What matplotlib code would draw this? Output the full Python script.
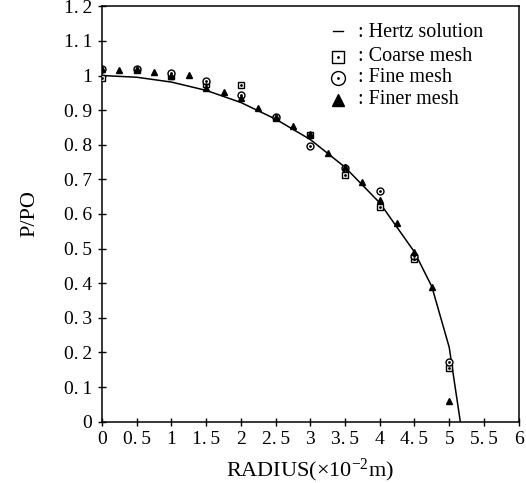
import matplotlib
matplotlib.use("Agg")
import matplotlib.pyplot as plt
import numpy as np

plt.rcParams['font.family'] = ['Liberation Serif', 'DejaVu Serif']
plt.rcParams['mathtext.fontset'] = 'custom'
plt.rcParams['mathtext.rm'] = 'Liberation Serif'
plt.rcParams['mathtext.it'] = 'Liberation Serif:italic'

# Hertz solution
hertz_r = [0.0, 0.5, 1.0, 1.5, 2.0, 2.5, 3.0, 3.5, 4.0, 4.5, 4.75, 5.0, 5.16]
hertz_p = [1.0, 0.995, 0.981, 0.957, 0.922, 0.874, 0.815, 0.735, 0.632, 0.49, 0.39, 0.215, 0.0]

# Coarse mesh
coarse_r = [0.0, 0.5, 1.0, 1.5, 2.0, 2.5, 3.0, 3.5, 4.0, 4.5, 5.0]
coarse_p = [0.993, 1.015, 0.998, 0.975, 0.973, 0.878, 0.828, 0.712, 0.62, 0.47, 0.155]

# Fine mesh
fine_r = [0.0, 0.5, 1.0, 1.5, 2.0, 2.5, 3.0, 3.5, 4.0, 4.5, 5.0]
fine_p = [1.02, 1.018, 1.008, 0.985, 0.944, 0.881, 0.795, 0.733, 0.665, 0.478, 0.173]

# Finer mesh
finer_r = [0.0, 0.25, 0.5, 0.75, 1.0, 1.25, 1.5, 1.75, 2.0, 2.25, 2.5, 2.75,
           3.0, 3.25, 3.5, 3.75, 4.0, 4.25, 4.5, 4.75, 5.0]
finer_p = [1.02, 1.016, 1.018, 1.01, 1.0, 1.002, 0.963, 0.952, 0.935, 0.907, 0.881, 0.855,
           0.832, 0.777, 0.737, 0.692, 0.64, 0.573, 0.491, 0.388, 0.061]

xticks = [0, 0.5, 1, 1.5, 2, 2.5, 3, 3.5, 4, 4.5, 5, 5.5, 6]
yticks = [0, 0.1, 0.2, 0.3, 0.4, 0.5, 0.6, 0.7, 0.8, 0.9, 1.0, 1.1, 1.2]

def fmt(v):
    s = ('%g' % v)
    return s.replace('.', '.\u2009')

fig = plt.figure(figsize=(5.26, 4.83), dpi=100)
ax = fig.add_axes([0.194, 0.127, 0.792, 0.86])

ax.plot(hertz_r, hertz_p, color='black', lw=1.1, zorder=2)
ax.plot(coarse_r, coarse_p, linestyle='none', marker='s', ms=4.5, mfc='white',
        mec='black', mew=1.0, zorder=3)
ax.plot(coarse_r, coarse_p, linestyle='none', marker='.', ms=2, color='black', zorder=4)
ax.plot(fine_r, fine_p, linestyle='none', marker='o', ms=5, mfc='white',
        mec='black', mew=1.0, zorder=3)
ax.plot(fine_r, fine_p, linestyle='none', marker='.', ms=2, color='black', zorder=4)
ax.plot(finer_r, finer_p, linestyle='none', marker='^', ms=4.5, color='black', zorder=5)

ax.set_xlim(0, 6)
ax.set_ylim(0, 1.2)
ax.set_xticks(xticks)
ax.set_yticks(yticks)
ax.set_xticklabels([fmt(v) for v in xticks], fontsize=14)
ax.set_yticklabels([fmt(v) for v in yticks], fontsize=14)
ax.tick_params(direction='inout', length=6, width=1, pad=4)
for sp in ax.spines.values():
    sp.set_linewidth(1.1)

ax.set_xlabel('RADIUS(×10$^{-2}$m)', fontsize=16, labelpad=6)
ax.set_ylabel('P/PO', fontsize=16, labelpad=18)

# Legend (manual)
lx_sym = 0.566
lx_txt = 0.615
rows = [0.936, 0.878, 0.828, 0.775]
labels = [': Hertz solution', ': Coarse mesh', ': Fine mesh', ': Finer mesh']
ax.plot([lx_sym - 0.012, lx_sym + 0.012], [rows[0] + 0.005, rows[0] + 0.005],
        transform=ax.transAxes, color='black', lw=1.0)
ax.plot([lx_sym], [rows[1]], transform=ax.transAxes, marker='s', ms=8, mfc='white',
        mec='black', mew=1.0)
ax.plot([lx_sym], [rows[1]], transform=ax.transAxes, marker='.', ms=2, color='black')
ax.plot([lx_sym], [rows[2]], transform=ax.transAxes, marker='o', ms=10, mfc='white',
        mec='black', mew=1.0)
ax.plot([lx_sym], [rows[2]], transform=ax.transAxes, marker='.', ms=2, color='black')
ax.plot([lx_sym], [rows[3]], transform=ax.transAxes, marker='^', ms=9, color='black')
for y, t in zip(rows, labels):
    ax.text(lx_txt, y, t, transform=ax.transAxes, fontsize=14.5, va='center', ha='left')

fig.savefig('out.png', dpi=100)
